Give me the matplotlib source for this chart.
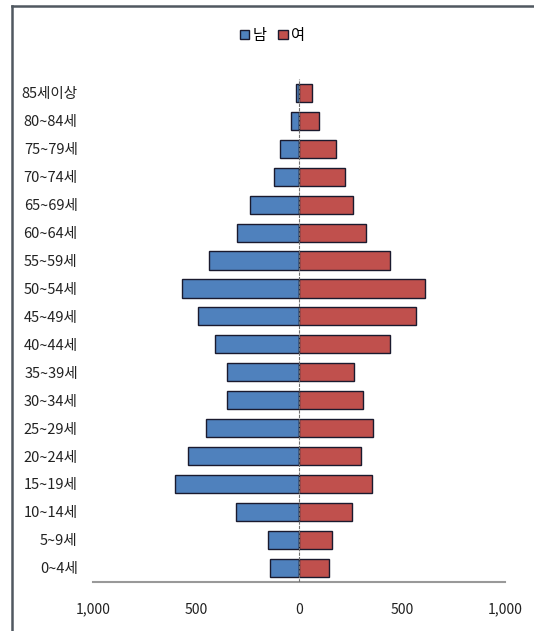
import numpy as np
import matplotlib
matplotlib.use('Agg')
from matplotlib import pyplot as plt
from matplotlib.lines import Line2D
from matplotlib.ticker import FuncFormatter

plt.rcParams['font.family'] = ['Noto Sans CJK KR', 'DejaVu Sans']

ages = ['0~4세', '5~9세', '10~14세', '15~19세', '20~24세', '25~29세',
        '30~34세', '35~39세', '40~44세', '45~49세', '50~54세', '55~59세',
        '60~64세', '65~69세', '70~74세', '75~79세', '80~84세', '85세이상']
male = [139, 150, 304, 601, 537, 453, 351, 351, 409, 490, 569, 437,
        302, 239, 123, 90, 37, 16]
female = [146, 162, 257, 354, 299, 357, 311, 269, 441, 569, 613, 443,
          325, 262, 225, 181, 97, 65]

fig = plt.figure(figsize=(5.34, 6.31), dpi=100)
ax = fig.add_axes([0.1742, 0.0781, 0.7715, 0.7967])

y = np.arange(len(ages))
ax.barh(y, -np.array(male), height=0.65, color='#4F81BD',
        edgecolor='#1a1a2e', linewidth=1.0, label='남')
ax.barh(y, female, height=0.65, color='#C0504D',
        edgecolor='#1a1a2e', linewidth=1.0, label='여')

ax.axvline(0, color='#707070', lw=0.8, ls=(0, (3, 1)), zorder=3)

ax.set_xlim(-1000, 1000)
ax.set_ylim(-0.5, len(ages) - 0.5)
ax.set_xticks([-1000, -500, 0, 500, 1000])
ax.xaxis.set_major_formatter(FuncFormatter(lambda v, p: f'{abs(int(v)):,}'))
ax.set_yticks(y)
ax.set_yticklabels(ages)
ax.tick_params(axis='x', length=0, pad=15, labelsize=10, colors='#222222')
ax.tick_params(axis='y', length=0, pad=11, labelsize=10.5, colors='#222222')

for s in ['top', 'right', 'left']:
    ax.spines[s].set_visible(False)
ax.spines['bottom'].set_color('#999999')
ax.spines['bottom'].set_linewidth(1.5)

fig.legend(loc='center', bbox_to_anchor=(0.51, 0.944), ncol=2, frameon=False,
           handlelength=0.6, handleheight=0.6, handletextpad=0.2,
           columnspacing=0.8, fontsize=11)

# chart frame
fig.add_artist(Line2D([12 / 534, 12 / 534], [0, 1 - 6 / 631],
                      color='#505860', lw=1.8))
fig.add_artist(Line2D([12 / 534, 1], [1 - 6 / 631, 1 - 6 / 631],
                      color='#505860', lw=1.8))

fig.savefig('out.png', dpi=100)
